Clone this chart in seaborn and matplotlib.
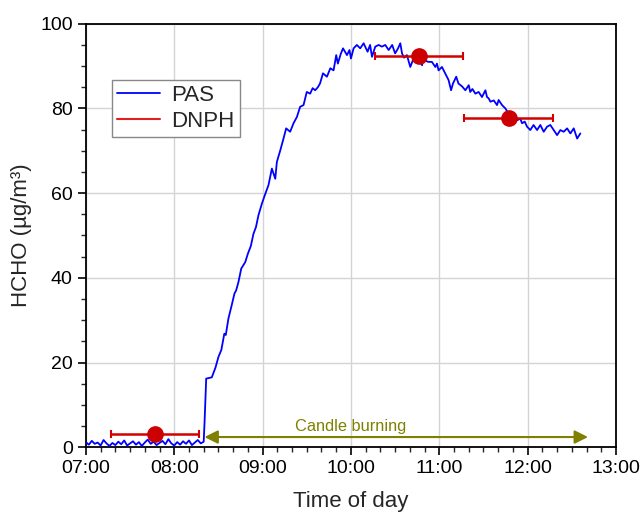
import numpy as np
import pandas as pd
import matplotlib
matplotlib.use("Agg")
import matplotlib.pyplot as plt
import seaborn as sns
from matplotlib.ticker import MultipleLocator, FuncFormatter
from matplotlib.lines import Line2D

# PAS trace, minutes after 07:00 and HCHO in ug/m3
pas_min_base = list(range(0, 82, 2))
pas_val_base = [1.2, 0.6, 1.5, 0.8, 1.1, 0.4, 1.7, 0.9, 0.3, 1.0, 0.5, 1.3, 0.7, 1.6,
                0.4, 0.9, 1.4, 0.6, 1.2, 0.3, 1.1, 1.8, 0.8, 1.3, 0.5, 1.0, 1.5, 0.7,
                1.9, 0.9, 0.4, 1.2, 0.6, 1.4, 0.8, 1.6, 0.5, 1.1, 1.7, 0.9, 1.3]
pas_min_rise = [80.6, 81.7, 85.5, 88, 90, 92, 94, 95, 96.8, 99, 100.9, 102, 103.6,
                105.5, 108.2, 110, 112, 113.8, 115.5, 117.2, 119.5, 122, 124, 126.3,
                128.6, 129.7, 132, 134.2, 136, 138.7, 141, 143.3, 145.5, 147.8, 150,
                152.3, 154, 155.7, 157.5, 159, 161, 163.7, 166, 168.2, 170, 171.1,
                173, 174.6, 177.3, 179, 180, 181.8, 184, 186.3, 188.6, 191.3, 193,
                194.3, 196.5, 198.8, 201, 203.3, 205.6, 208, 210, 212, 213.5, 214.7,
                216, 218, 220.3, 222.5, 224.5, 226.5, 228.3, 229.3, 231, 232.7, 235,
                237.3, 238.4, 239.5, 241.8, 244, 246.3, 248, 249.3, 251.5, 253, 255.5,
                257.7, 260, 261, 262.5, 264.5, 266.7, 269, 271.3, 272.4, 273.5, 274.7,
                277, 279.2, 280.3, 282.6, 284.9, 287, 288.8, 290.5, 292.8, 295, 296.2,
                298, 299.6, 301.8, 304, 306.4, 308.6, 310.9, 313.2, 315.4, 317.7, 320,
                322.2, 324.5, 326.8, 329, 331.3, 333.6, 335.8]
pas_val_rise = [6.0, 16.2, 16.5, 18.8, 21.3, 23.0, 26.8, 26.5, 30.4, 33.5, 36.3, 37.0,
                39.0, 42.2, 43.7, 45.7, 47.5, 50.4, 52.0, 54.8, 57.5, 60.0, 61.9, 65.8,
                63.4, 67.4, 70.1, 72.9, 75.3, 74.5, 76.5, 78.0, 80.4, 80.8, 83.9, 83.5,
                84.8, 84.3, 85.0, 85.9, 88.3, 87.5, 89.5, 89.0, 92.6, 90.6, 92.8, 94.2,
                92.6, 93.8, 91.8, 94.2, 95.0, 94.2, 95.4, 93.4, 95.0, 92.2, 94.6, 95.0,
                94.6, 95.0, 93.8, 95.0, 93.0, 94.2, 95.4, 93.0, 92.0, 92.6, 89.8, 91.8,
                91.0, 91.5, 90.2, 92.2, 91.2, 91.0, 91.0, 89.8, 90.6, 89.0, 89.8, 88.3,
                86.7, 84.3, 85.9, 87.5, 85.9, 85.2, 84.3, 85.5, 83.9, 84.6, 83.5, 83.9,
                82.7, 84.3, 82.7, 82.4, 81.6, 81.9, 80.8, 82.0, 80.8, 80.0, 78.8, 78.5,
                78.0, 77.2, 77.6, 76.5, 76.9, 75.7, 74.9, 76.1, 74.9, 76.1, 74.5, 75.7,
                76.1, 74.9, 73.7, 74.9, 74.5, 75.3, 74.1, 75.3, 72.9, 74.1]

pas_min = pas_min_base + pas_min_rise
pas_val = pas_val_base + pas_val_rise

# DNPH samples: centre time (min after 07:00), value, half sampling window (min)
dnph_min = [47, 46 + 180, 47 + 240]
dnph_val = [3.2, 92.3, 77.7]
dnph_half = [30, 30, 30]

pas = pd.DataFrame({"hour": 7 + np.array(pas_min) / 60.0, "HCHO": pas_val})

sns.set_style("ticks")
plt.rcParams["font.family"] = ["Liberation Sans", "DejaVu Sans"]

fig = plt.figure(figsize=(6.41, 5.17), dpi=100)
ax = fig.add_axes([0.134, 0.135, 0.827, 0.819])

ax.grid(True, which="major", color="#d4d4d4", linewidth=1.0, zorder=0)

sns.lineplot(data=pas, x="hour", y="HCHO", color="#0000ff", linewidth=1.3,
             ax=ax, legend=False, zorder=3)

dnph_h = 7 + np.array(dnph_min) / 60.0
ax.errorbar(dnph_h, dnph_val, xerr=np.array(dnph_half) / 60.0, fmt="none",
            ecolor="#d40000", elinewidth=1.8, capsize=3, capthick=1.5, zorder=4)
ax.plot(dnph_h, dnph_val, "o", color="#cc0000", markersize=11, zorder=5)

# candle burning period
olive = "#808000"
ax.annotate("", xy=(7 + 80.5 / 60, 2.4), xytext=(7 + 341 / 60, 2.4),
            arrowprops=dict(arrowstyle="<|-|>", color=olive, lw=1.5,
                            mutation_scale=20, shrinkA=0, shrinkB=0), zorder=6)
ax.text(10.0, 5.0, "Candle burning", color=olive, fontsize=11.8,
        ha="center", va="center")

ax.set_xlim(7, 13)
ax.set_ylim(0, 100)
ax.xaxis.set_major_locator(MultipleLocator(1))
ax.xaxis.set_minor_locator(MultipleLocator(1 / 6))
ax.yaxis.set_major_locator(MultipleLocator(20))
ax.yaxis.set_minor_locator(MultipleLocator(5))
ax.xaxis.set_major_formatter(FuncFormatter(lambda v, p: f"{int(round(v)):02d}:00"))

ax.tick_params(which="major", direction="out", length=6, width=1.2,
               labelsize=14, colors="black")
ax.tick_params(which="minor", direction="out", length=3.5, width=1.0)
for s in ax.spines.values():
    s.set_visible(True)
    s.set_color("black")
    s.set_linewidth(1.3)

ax.set_xlabel("Time of day", fontsize=16, labelpad=10)
ax.set_ylabel("HCHO (µg/m³)", fontsize=16, labelpad=6)

leg_handles = [Line2D([], [], color="#0000ff", lw=1.3),
               Line2D([], [], color="#e02020", lw=1.5)]
ax.legend(leg_handles, ["PAS", "DNPH"], loc="upper left",
          bbox_to_anchor=(0.049, 0.868), fontsize=16, frameon=True,
          fancybox=False, edgecolor="#888888", framealpha=1,
          handlelength=1.9, borderpad=0.25, labelspacing=0.2,
          handletextpad=0.5, borderaxespad=0)

fig.savefig("out.png", dpi=100)
